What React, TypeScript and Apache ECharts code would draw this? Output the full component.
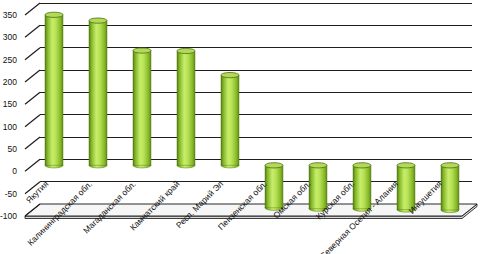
import React, { useEffect, useRef } from "react";
import * as echarts from "echarts";

const categories = [
  "Якутия",
  "Калининградская обл.",
  "Магаданская обл.",
  "Камчатский край",
  "Респ. Марий Эл",
  "Пензенская обл.",
  "Омская обл.",
  "Курская обл.",
  "Северная Осетия - Алания",
  "Ингушетия",
];
const values = [337, 324, 257, 256, 202, -95, -97, -97, -99, -100];
const yTicks = [-100, -50, 0, 50, 100, 150, 200, 250, 300, 350];
const Y_MIN = -100;
const Y_MAX = 350;
const Y_STEP = 50;

const DX = 15;
const DY = -12;
const FONT = "'Liberation Sans', Arial, sans-serif";

export default function App() {
  const ref = useRef<HTMLDivElement>(null);
  useEffect(() => {
    document.body.style.margin = "0";
    if (!ref.current) return;
    const chart = echarts.init(ref.current, undefined, { renderer: "svg" });

    const barFill = () =>
      new echarts.graphic.LinearGradient(0, 0, 1, 0, [
        { offset: 0, color: "#557f10" },
        { offset: 0.15, color: "#86ba2a" },
        { offset: 0.4, color: "#c6ee6c" },
        { offset: 0.6, color: "#b8e256" },
        { offset: 0.85, color: "#88ba2a" },
        { offset: 1, color: "#618e16" },
      ]);

    const yAxisBase = (gridIndex: number) => ({
      type: "value",
      gridIndex,
      min: Y_MIN,
      max: Y_MAX,
      interval: Y_STEP,
      axisLine: { show: false },
      axisTick: { show: false },
      axisLabel: { show: false },
      splitLine: { show: false },
    });
    const xAxisBase = (gridIndex: number) => ({
      type: "category",
      gridIndex,
      data: categories,
      axisLine: { show: false },
      axisTick: { show: false },
      axisLabel: { show: false },
      splitLine: { show: false },
    });

    const gridBase = { containLabel: false, outerBoundsMode: "none" };
    const frontBottom = 38;
    const frontTop = 15;
    const chartH = 254;
    // distance from the front grid's bottom (value min) to value 0
    const zeroOffset = ((0 - Y_MIN) / (Y_MAX - Y_MIN)) * (chartH - frontTop - frontBottom);

    const option: any = {
      animation: false,
      grid: [
        { ...gridBase, left: 40, right: 8, top: 3, bottom: 50 },
        { ...gridBase, left: 32, right: 8, top: 9, bottom: 44 },
        { ...gridBase, left: 25, right: 18, top: frontTop, bottom: frontBottom },
      ],
      xAxis: [
        xAxisBase(0),
        xAxisBase(1),
        {
          ...xAxisBase(2),
          z: 10,
          position: "bottom",
          offset: -zeroOffset,
          axisLine: { show: false, onZero: false },
          axisLabel: {
            show: true,
            interval: 0,
            rotate: 45,
            margin: 11,
            fontSize: 8.5,
            fontFamily: FONT,
            color: "#111",
          },
        },
      ],
      yAxis: [
        {
          ...yAxisBase(0),
          splitLine: { show: true, lineStyle: { color: "#1e1e1e", width: 1.2 } },
        },
        yAxisBase(1),
        {
          ...yAxisBase(2),
          axisLabel: {
            show: true,
            margin: 8,
            fontSize: 8.5,
            fontFamily: FONT,
            color: "#111",
          },
        },
      ],
      series: [
        {
          type: "custom",
          name: "floor",
          xAxisIndex: 2,
          yAxisIndex: 2,
          z: 1,
          data: [[0, Y_MIN]],
          renderItem: (params: any, api: any) => {
            const band = api.size([1, 0])[0];
            const p0 = api.coord([0, Y_MIN]);
            const p9 = api.coord([categories.length - 1, Y_MIN]);
            const L = p0[0] - band / 2;
            const R = p9[0] + band / 2;
            const y = p0[1];
            const t = 2.5;
            return {
              type: "group",
              children: [
                {
                  type: "polygon",
                  shape: {
                    points: [
                      [L, y],
                      [R, y],
                      [R + DX, y + DY],
                      [R + DX, y + DY + t],
                      [R, y + t],
                      [L, y + t],
                    ],
                  },
                  style: { fill: "#d8d8d8", stroke: "#111", lineWidth: 0.8 },
                },
                {
                  type: "polygon",
                  shape: {
                    points: [
                      [L, y],
                      [R, y],
                      [R + DX, y + DY],
                      [L + DX, y + DY],
                    ],
                  },
                  style: { fill: "#f6f6f6", stroke: "#111", lineWidth: 0.9 },
                },
              ],
            };
          },
        },
        {
          type: "custom",
          name: "ticks",
          xAxisIndex: 2,
          yAxisIndex: 2,
          z: 1,
          data: yTicks.map((v) => [0, v]),
          renderItem: (params: any, api: any) => {
            const band = api.size([1, 0])[0];
            const p = api.coord([0, api.value(1)]);
            const x = p[0] - band / 2;
            return {
              type: "line",
              shape: { x1: x, y1: p[1], x2: x + DX, y2: p[1] + DY },
              style: { stroke: "#1e1e1e", lineWidth: 1.2 },
            };
          },
        },
        {
          type: "custom",
          name: "bars",
          xAxisIndex: 1,
          yAxisIndex: 1,
          z: 3,
          data: categories.map((c, i) => [i, values[i]]),
          renderItem: (params: any, api: any) => {
            const band = api.size([1, 0])[0];
            const w = band * 0.41;
            const p0 = api.coord([api.value(0), 0]);
            const p1 = api.coord([api.value(0), api.value(1)]);
            const cx = p0[0];
            const yTop = Math.min(p0[1], p1[1]);
            const yBot = Math.max(p0[1], p1[1]);
            const ry = 2.6;
            return {
              type: "group",
              children: [
                {
                  type: "ellipse",
                  shape: { cx, cy: yBot, rx: w / 2, ry },
                  style: { fill: barFill(), stroke: "#4c7010", lineWidth: 0.5 },
                },
                {
                  type: "rect",
                  shape: { x: cx - w / 2, y: yTop, width: w, height: yBot - yTop },
                  style: { fill: barFill(), stroke: "#4c7010", lineWidth: 0.4 },
                },
                {
                  type: "ellipse",
                  shape: { cx, cy: yTop, rx: w / 2, ry },
                  style: { fill: "#b2da58", stroke: "#4a6c10", lineWidth: 0.8 },
                },
              ],
            };
          },
        },
      ],
    };
    chart.setOption(option);
    return () => chart.dispose();
  }, []);
  return <div ref={ref} style={{ width: 480, height: 254 }} />;
}
